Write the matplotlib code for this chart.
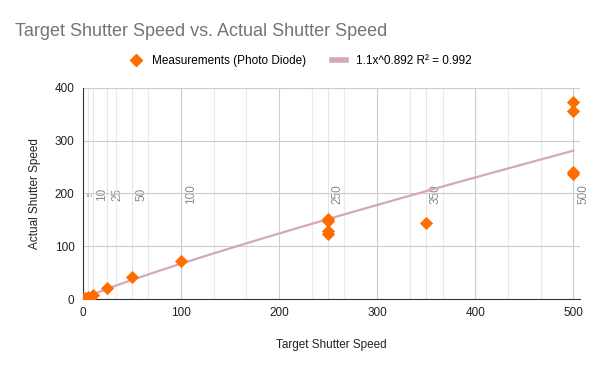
import numpy as np
import matplotlib
matplotlib.use("Agg")
import matplotlib.pyplot as plt
from matplotlib.lines import Line2D

plt.rcParams['font.family'] = ['Liberation Sans', 'DejaVu Sans']

target = [0, 2, 5, 10, 25, 50, 100, 250, 250, 250, 250, 350, 500, 500, 500, 500]
actual = [0, 1.5, 3, 7.6, 21, 42, 72, 151, 147, 129.5, 123, 145, 373, 356, 241, 237]
ref_lines = [5, 10, 25, 50, 100, 250, 350, 500]
ref_labels = ["5", "10", "25", "50", "100", "250", "350", "500"]
trend_a, trend_b = 1.1, 0.892
legend_labels = ["Measurements (Photo Diode)", "1.1x^0.892 R\u00b2 = 0.992"]

orange = '#ff6d01'
pink = '#d5a6bd'

fig = plt.figure(figsize=(6, 3.71), dpi=100)
ax = fig.add_axes([0.138, 0.194, 0.829, 0.569])

ax.set_xlim(0, 507)
ax.set_ylim(0, 400)
ax.set_xticks([0, 100, 200, 300, 400, 500])
ax.set_yticks([0, 100, 200, 300, 400])
ax.set_xticks(np.arange(0, 507, 100/3), minor=True)
ax.grid(True, which='major', color='#cccccc', lw=0.8, zorder=0)
ax.grid(True, which='minor', axis='x', color='#ebebeb', lw=0.8, zorder=0)

for x, lab in zip(ref_lines, ref_labels):
    ax.axvline(x, color='#e6e6e6', lw=0.8, zorder=0.5)
    if lab == "5":
        ax.text(x + 3.5, 199, lab, rotation=90, ha='center', va='center',
                color='#8a8a8a', fontsize=5.5, zorder=1)
    else:
        ax.text(x + 10, 199, lab, rotation=90, ha='center', va='center',
                color='#8a8a8a', fontsize=8.5, zorder=1)

xs = np.linspace(0, 500, 300)
ax.plot(xs, trend_a * xs ** trend_b, color=pink, lw=1.6, zorder=2)
ax.scatter(target, actual, marker='D', s=45, color=orange, zorder=3, linewidths=0)

for s in ['top', 'right']:
    ax.spines[s].set_visible(False)
ax.spines['left'].set_color('#333333')
ax.spines['bottom'].set_color('#333333')
ax.tick_params(which='both', length=0, labelsize=8.5, colors='#222222', pad=6)

ax.set_xlabel("Target Shutter Speed", fontsize=8.5, color='#222222', labelpad=14)
ax.set_ylabel("Actual Shutter Speed", fontsize=8.5, color='#222222', labelpad=10)

fig.text(0.025, 0.915, "Target Shutter Speed vs. Actual Shutter Speed",
         fontsize=13, color='#757575', ha='left', va='center')

handles = [Line2D([], [], marker='D', color=orange, ls='none', markersize=6.5),
           Line2D([], [], color=pink, lw=4)]
fig.legend(handles, legend_labels, loc='center', bbox_to_anchor=(0.5, 0.835),
           ncol=2, frameon=False, fontsize=8.5, handlelength=1.2,
           columnspacing=2.2, handletextpad=0.8)

fig.savefig("out.png", dpi=100)
